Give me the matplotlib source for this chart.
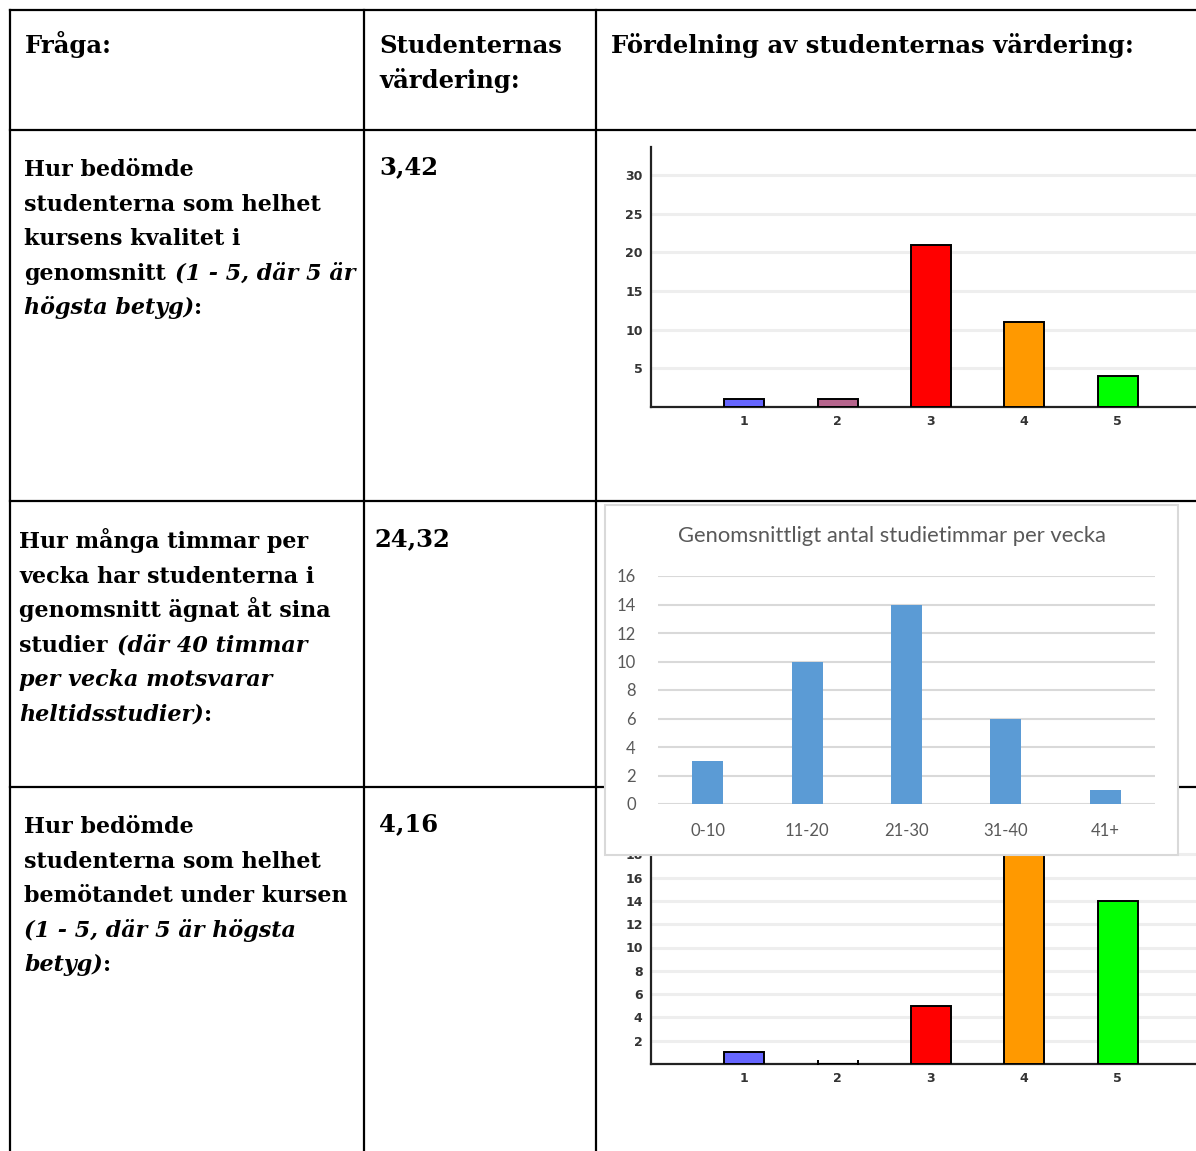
import matplotlib
matplotlib.use("Agg")
import matplotlib.pyplot as plt
from matplotlib.lines import Line2D
from matplotlib.patches import Rectangle
import numpy as np

W, H = 1196, 1151

# chart 1: kursens kvalitet
grades = ["1", "2", "3", "4", "5"]
quality_counts = [1, 1, 21, 11, 4]
# chart 3: bemotandet
treatment_counts = [1, 0, 5, 18, 14]
grade_colors = ["#6666ff", "#b5648c", "#ff0000", "#ff9900", "#00ff00"]

# chart 2: studietimmar
hour_bins = ["0-10", "11-20", "21-30", "31-40", "41+"]
hour_counts = [3, 10, 14, 6, 1]

quality_ticks = [5, 10, 15, 20, 25, 30]
treatment_ticks = [2, 4, 6, 8, 10, 12, 14, 16, 18]
hour_ticks = [0, 2, 4, 6, 8, 10, 12, 14, 16]

header = ["Fråga:", ["Studenternas", "värdering:"], "Fördelning av studenternas värdering:"]
rows = [
    ([[("Hur bedömde", "normal")],
      [("studenterna som helhet", "normal")],
      [("kursens kvalitet i", "normal")],
      [("genomsnitt", "normal"), ("(1 - 5, där 5 är", "italic")],
      [("högsta betyg)", "italic"), (":", "normal")]], "3,42"),
    ([[("Hur många timmar per", "normal")],
      [("vecka har studenterna i", "normal")],
      [("genomsnitt ägnat åt sina", "normal")],
      [("studier", "normal"), ("(där 40 timmar", "italic")],
      [("per vecka motsvarar", "italic")],
      [("heltidsstudier)", "italic"), (":", "normal")]], "24,32"),
    ([[("Hur bedömde", "normal")],
      [("studenterna som helhet", "normal")],
      [("bemötandet under kursen", "normal")],
      [("(1 - 5, där 5 är högsta", "italic")],
      [("betyg)", "italic"), (":", "normal")]], "4,16"),
]

fig = plt.figure(figsize=(W / 100, H / 100), dpi=100)
r = fig.canvas.get_renderer()

def fx(x):
    return x / W

def fy(y):
    return 1 - y / H

def box(x0, y0, x1, y1):
    return [fx(x0), fy(y1), (x1 - x0) / W, (y1 - y0) / H]

SERIF = "DejaVu Serif"
LSTEP = 34.6

def put_line(x, y, parts, size=16):
    sp = fig.text(0, 0, "a a", fontsize=size, fontweight="bold", family=SERIF)
    sp2 = fig.text(0, 0, "aa", fontsize=size, fontweight="bold", family=SERIF)
    gap = sp.get_window_extent(r).width - sp2.get_window_extent(r).width
    sp.remove(); sp2.remove()
    cur = x
    for i, (s, style) in enumerate(parts):
        if i > 0 and s != ":":
            cur += gap * 1.2
        t = fig.text(fx(cur), fy(y), s, fontsize=size, fontweight="bold",
                     fontstyle=style, family=SERIF, va="baseline", ha="left")
        cur += t.get_window_extent(r).width

# table lines
lw = 1.6
for x in [10, 364, 596]:
    fig.add_artist(Line2D([fx(x), fx(x)], [fy(10), fy(H + 5)], color="black", lw=lw, zorder=0.5))
for y in [10, 130, 501, 787]:
    fig.add_artist(Line2D([fx(10), fx(W + 5)], [fy(y), fy(y)], color="black", lw=lw, zorder=0.5))

# header
HSIZE = 17.5
put_line(25, 53, [(header[0], "normal")], HSIZE)
put_line(379, 53, [(header[1][0], "normal")], HSIZE)
put_line(379, 88, [(header[1][1], "normal")], HSIZE)
put_line(611, 53, [(header[2], "normal")], HSIZE)

starts = [(24, 176, 379), (19, 548, 374), (24, 833, 379)]
for (lines, val), (x0, y0, vx) in zip(rows, starts):
    for k, parts in enumerate(lines):
        put_line(x0, y0 + k * LSTEP, parts, 16)
    put_line(vx, y0 - 2, [(val, "normal")], HSIZE)

TICKFONT = ["Liberation Sans Narrow", "DejaVu Sans"]

def grade_chart(rect, counts, ticks, ytop, z):
    ax = fig.add_axes(rect, zorder=z)
    ax.patch.set_alpha(0)
    xs = np.arange(1, len(grades) + 1)
    ax.bar(xs, counts, width=0.43, color=grade_colors, edgecolor="black", linewidth=1.4, zorder=3)
    for xi, c in zip(xs, counts):
        if c == 0:
            ax.plot([xi - 0.215, xi + 0.215], [0, 0], ls="none", marker="|", ms=6, mew=1.4, color="black", zorder=4)
    ax.set_xlim(0, 5.84)
    ax.set_ylim(0, ytop)
    ax.set_xticks(xs)
    ax.set_xticklabels(grades)
    ax.set_yticks(ticks)
    for sp in ["top", "right"]:
        ax.spines[sp].set_visible(False)
    for sp in ["left", "bottom"]:
        ax.spines[sp].set_linewidth(1.6)
        ax.spines[sp].set_color("#222222")
    ax.yaxis.grid(True, color="#eeeeee", lw=2.2, zorder=0)
    ax.set_axisbelow(True)
    ax.tick_params(length=0, labelsize=9, labelcolor="#333333", pad=6)
    for lab in ax.get_xticklabels() + ax.get_yticklabels():
        lab.set_family(TICKFONT)
        lab.set_fontweight("bold")
    return ax

grade_chart(box(651, 147, 1196, 407), quality_counts, quality_ticks, 33.6, 1)
grade_chart(box(651, 831, 1196, 1064), treatment_counts, treatment_ticks, 20, 1)

# overlay box with hours chart
fig.add_artist(Rectangle((fx(605), fy(855)), (1178 - 605) / W, (855 - 505) / H,
                         transform=fig.transFigure, facecolor="white", edgecolor="#d9d9d9",
                         lw=1.5, zorder=2))
ax2 = fig.add_axes(box(658, 576, 1155, 804), zorder=3)
ax2.patch.set_alpha(0)
ax2.bar(np.arange(len(hour_bins)), hour_counts, width=0.31, color="#5b9bd5", zorder=3)
ax2.set_xlim(-0.5, 4.5)
ax2.set_ylim(0, 16)
ax2.set_yticks(hour_ticks)
ax2.set_xticks(np.arange(len(hour_bins)))
ax2.set_xticklabels(hour_bins)
for sp in ax2.spines.values():
    sp.set_visible(False)
ax2.yaxis.grid(True, color="#d9d9d9", lw=1.5, zorder=0)
ax2.set_axisbelow(True)
ax2.tick_params(length=0, labelsize=12, labelcolor="#595959")
ax2.tick_params(axis="y", pad=16)
ax2.tick_params(axis="x", pad=14)
for lab in ax2.get_xticklabels() + ax2.get_yticklabels():
    lab.set_family(["Lato", "DejaVu Sans"])
fig.text(fx(892), fy(536), "Genomsnittligt antal studietimmar per vecka", fontsize=15.8,
         color="#595959", family=["Lato", "DejaVu Sans"], ha="center", va="center", zorder=4)

fig.savefig("out.png", dpi=100)
